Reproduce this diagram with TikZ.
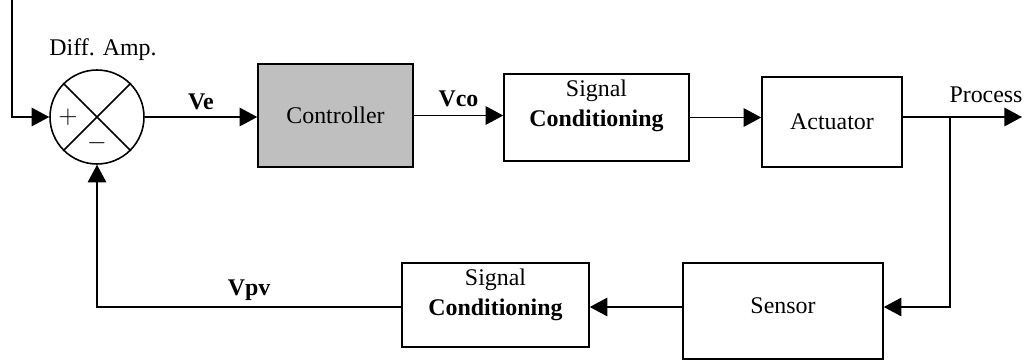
\documentclass[tikz,border=0pt]{standalone}
\usepackage{fontspec}
\setmainfont{Liberation Serif}
\usetikzlibrary{arrows.meta}

\begin{document}
\begin{tikzpicture}[x=0.02cm, y=-0.02cm, line width=0.9pt,
  every node/.style={font=\fontsize{13.6}{17}\selectfont},
  block/.style={draw, rectangle, inner sep=0pt},
  twoline/.style={label={[align=center, anchor=north, inner sep=3.5pt]north:Signal\\\textbf{Conditioning}}},
  sig/.style={-{Triangle[length=10pt,width=10.5pt]}}]
\useasboundingbox (0,0) rectangle (1027,362);
% summing junction
\node[draw, circle, minimum size=1.88cm, inner sep=0pt] (sum) at (97,117) {};
\draw (sum.45) -- (sum.225);
\draw (sum.135) -- (sum.315);
\node (plus) at ([xshift=-0.58cm]sum.center) {$+$};
\node (minus) at ([yshift=-0.52cm]sum.center) {$-$};
\node[anchor=base] (amp) at (103,55) {Diff. Amp.};
% forward path
\node[block, fill=black!25, minimum width=3.1cm, minimum height=2.06cm] (ctrl) at (335.5,115.5) {Controller};
\node[block, twoline, minimum width=3.7cm, minimum height=1.74cm] (sc1) at (596.5,117.5) {};
\node[block, minimum width=2.8cm, minimum height=1.8cm] (act) at (832,122) {Actuator};
\coordinate (in) at (12,0);
\coordinate (br) at (950,117);
\coordinate (out) at (1022,117);
% feedback path
\node[block, text depth=6.5pt, minimum width=4cm, minimum height=1.92cm] (sensor) at (783,311) {Sensor};
\node[block, twoline, minimum width=3.74cm, minimum height=1.68cm] (sc2) at (495.5,305) {};
\coordinate (fb) at (950,307);
% connectors
\draw[sig] (in) |- (sum.west);
\draw[sig] (sum.east) -- node[above] {\textbf{Ve}} (sum.east -| ctrl.west);
\draw[sig] (ctrl.east) -- node[above=1pt] {\textbf{Vco}} (ctrl.east -| sc1.west);
\draw[sig] (sc1.east) -- (sc1.east -| act.west);
\draw[sig] (act.east |- br) -- (br) -- node[above=4.5pt] {Process} (out);
\draw[sig] (br) -- (fb) -- (fb -| sensor.east);
\draw[sig] (fb -| sensor.west) -- (fb -| sc2.east);
\draw[sig] (sc2.west |- fb) -- node[above] {\textbf{Vpv}} (sum.south |- fb) -- (sum.south);
\end{tikzpicture}
\end{document}
